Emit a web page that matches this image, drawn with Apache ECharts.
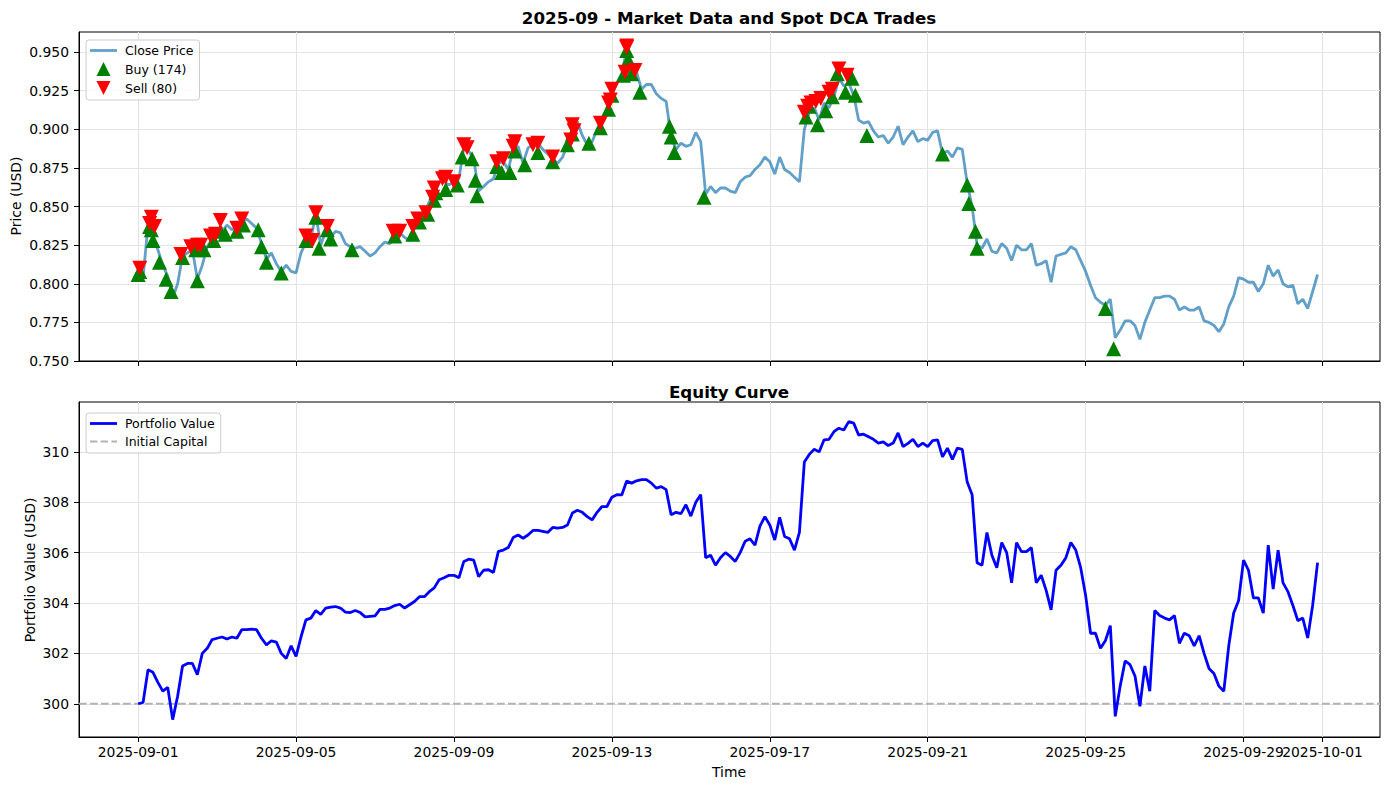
<!DOCTYPE html>
<html>
<head>
<meta charset="utf-8">
<script src="https://cdn.jsdelivr.net/npm/echarts@6/dist/echarts.min.js"></script>
<style>
  html, body { margin: 0; padding: 0; background: #fff; }
  #chart { width: 1389px; height: 790px; }
</style>
</head>
<body>
<div id="chart"></div>
<script>
// --- data (one value every 3 hours) ---
const START = '2025-09-01 00:00';
const END = '2025-09-30 23:00';
const STEP_HOURS = 3;

const closePrice = [
  0.806, 0.804, 0.838, 0.830, 0.822, 0.812, 0.805, 0.791,
  0.800, 0.818, 0.820, 0.822, 0.803, 0.812, 0.824, 0.829,
  0.831, 0.834, 0.838, 0.835, 0.837, 0.841, 0.842, 0.839,
  0.836, 0.826, 0.816, 0.820, 0.813, 0.808, 0.812, 0.808,
  0.807, 0.820, 0.827, 0.829, 0.845, 0.825, 0.834, 0.830,
  0.834, 0.833, 0.826, 0.824, 0.823, 0.824, 0.821, 0.818,
  0.820, 0.824, 0.827, 0.826, 0.830, 0.833, 0.830, 0.828,
  0.836, 0.842, 0.846, 0.853, 0.857, 0.866, 0.866, 0.864,
  0.866, 0.868, 0.888, 0.886, 0.881, 0.860, 0.863, 0.866,
  0.868, 0.878, 0.879, 0.874, 0.887, 0.889, 0.878, 0.888,
  0.890, 0.891, 0.887, 0.884, 0.881, 0.878, 0.882, 0.890,
  0.897, 0.905, 0.896, 0.890, 0.892, 0.900, 0.906, 0.914,
  0.922, 0.930, 0.936, 0.952, 0.938, 0.937, 0.926, 0.929,
  0.929, 0.923, 0.920, 0.918, 0.895, 0.887, 0.891, 0.889,
  0.890, 0.898, 0.892, 0.858, 0.863, 0.859, 0.862, 0.862,
  0.860, 0.859, 0.866, 0.869, 0.870, 0.874, 0.877, 0.882,
  0.879, 0.871, 0.882, 0.874, 0.872, 0.869, 0.866, 0.900,
  0.911, 0.914, 0.906, 0.917, 0.914, 0.921, 0.933, 0.928,
  0.930, 0.922, 0.906, 0.904, 0.905, 0.899, 0.895, 0.896,
  0.891, 0.895, 0.902, 0.890, 0.895, 0.899, 0.892, 0.894,
  0.893, 0.898, 0.899, 0.884, 0.886, 0.882, 0.888, 0.887,
  0.865, 0.850, 0.825, 0.823, 0.829, 0.821, 0.820, 0.826,
  0.823, 0.815, 0.825, 0.822, 0.822, 0.826, 0.812, 0.813,
  0.815, 0.801, 0.818, 0.819, 0.820, 0.824, 0.822, 0.815,
  0.808, 0.799, 0.791, 0.788, 0.786, 0.790, 0.765, 0.770,
  0.776, 0.776, 0.773, 0.764, 0.775, 0.783, 0.791, 0.791,
  0.792, 0.792, 0.790, 0.783, 0.785, 0.783, 0.783, 0.785,
  0.776, 0.775, 0.773, 0.769, 0.774, 0.785, 0.792, 0.804,
  0.803, 0.801, 0.801, 0.795, 0.800, 0.812, 0.805, 0.809,
  0.800, 0.798, 0.799, 0.787, 0.790, 0.784, 0.795, 0.806
];

const portfolioValue = [
  300.00, 300.05, 301.35, 301.25, 300.85, 300.50, 300.65, 299.37,
  300.30, 301.50, 301.60, 301.60, 301.15, 302.00, 302.20, 302.55,
  302.60, 302.65, 302.57, 302.65, 302.60, 302.94, 302.94, 302.96,
  302.94, 302.60, 302.34, 302.50, 302.45, 302.00, 301.80, 302.30,
  301.88, 302.65, 303.33, 303.40, 303.70, 303.55, 303.80, 303.84,
  303.86, 303.80, 303.64, 303.62, 303.70, 303.62, 303.45, 303.47,
  303.49, 303.75, 303.75, 303.80, 303.90, 303.95, 303.80, 303.93,
  304.06, 304.25, 304.25, 304.45, 304.60, 304.92, 305.00, 305.10,
  305.10, 305.00, 305.65, 305.74, 305.70, 305.05, 305.30, 305.32,
  305.21, 306.05, 306.10, 306.20, 306.60, 306.70, 306.57, 306.70,
  306.88, 306.88, 306.84, 306.80, 307.00, 306.97, 307.00, 307.10,
  307.57, 307.68, 307.60, 307.43, 307.30, 307.60, 307.83, 307.83,
  308.20, 308.30, 308.29, 308.84, 308.76, 308.85, 308.90, 308.90,
  308.76, 308.56, 308.62, 308.50, 307.50, 307.60, 307.55, 307.90,
  307.45, 308.00, 308.30, 305.80, 305.90, 305.50, 305.80, 306.00,
  305.85, 305.65, 306.00, 306.45, 306.55, 306.30, 307.05, 307.43,
  307.10, 306.50, 307.40, 306.64, 306.55, 306.10, 306.80, 309.60,
  309.90, 310.10, 310.00, 310.48, 310.50, 310.80, 310.94, 310.87,
  311.20, 311.14, 310.67, 310.70, 310.60, 310.50, 310.35, 310.40,
  310.25, 310.35, 310.75, 310.21, 310.34, 310.50, 310.21, 310.35,
  310.21, 310.45, 310.48, 309.80, 310.15, 309.70, 310.15, 310.10,
  308.80, 308.30, 305.60, 305.50, 306.80, 305.90, 305.40, 306.40,
  306.00, 304.80, 306.40, 306.04, 306.04, 306.20, 304.80, 305.10,
  304.50, 303.73, 305.30, 305.50, 305.80, 306.40, 306.10, 305.40,
  304.30, 302.80, 302.80, 302.20, 302.50, 303.10, 299.50, 300.70,
  301.70, 301.55, 301.10, 299.90, 301.50, 300.50, 303.70, 303.50,
  303.40, 303.33, 303.50, 302.40, 302.80, 302.70, 302.30, 302.70,
  302.00, 301.40, 301.20, 300.70, 300.50, 302.30, 303.60, 304.10,
  305.70, 305.30, 304.20, 304.20, 303.60, 306.30, 304.55, 306.10,
  304.80, 304.45, 303.90, 303.30, 303.40, 302.61, 303.90, 305.60
];

const INITIAL_CAPITAL = 300;

const buyTrades = [
  ['2025-09-01 00:00', 0.806], ['2025-09-01 01:00', 0.808], ['2025-09-01 07:00', 0.837],
  ['2025-09-01 08:00', 0.835], ['2025-09-01 09:00', 0.828], ['2025-09-01 13:00', 0.814],
  ['2025-09-01 17:00', 0.803], ['2025-09-01 20:00', 0.795], ['2025-09-02 03:00', 0.817],
  ['2025-09-02 12:00', 0.802], ['2025-09-02 11:00', 0.822], ['2025-09-02 16:00', 0.822],
  ['2025-09-02 22:00', 0.828], ['2025-09-03 02:00', 0.834], ['2025-09-03 05:00', 0.832],
  ['2025-09-03 12:00', 0.834], ['2025-09-03 16:00', 0.838], ['2025-09-04 01:00', 0.835],
  ['2025-09-04 03:00', 0.824], ['2025-09-04 06:00', 0.814], ['2025-09-04 15:00', 0.807],
  ['2025-09-05 06:00', 0.828], ['2025-09-05 12:00', 0.843], ['2025-09-05 14:00', 0.823],
  ['2025-09-05 19:00', 0.835], ['2025-09-05 21:00', 0.829], ['2025-09-06 10:00', 0.822],
  ['2025-09-07 12:00', 0.831], ['2025-09-07 23:00', 0.832], ['2025-09-08 03:00', 0.840],
  ['2025-09-08 08:00', 0.845], ['2025-09-08 12:00', 0.854], ['2025-09-08 19:00', 0.861],
  ['2025-09-08 13:00', 0.859], ['2025-09-09 02:00', 0.864], ['2025-09-09 05:00', 0.882],
  ['2025-09-09 11:00', 0.881], ['2025-09-09 13:00', 0.867], ['2025-09-09 14:00', 0.857],
  ['2025-09-10 02:00', 0.876], ['2025-09-10 05:00', 0.872], ['2025-09-10 10:00', 0.872],
  ['2025-09-10 13:00', 0.886], ['2025-09-10 19:00', 0.877], ['2025-09-11 03:00', 0.885],
  ['2025-09-11 12:00', 0.879], ['2025-09-11 21:00', 0.890], ['2025-09-12 00:00', 0.897],
  ['2025-09-12 10:00', 0.891], ['2025-09-12 17:00', 0.901], ['2025-09-12 22:00', 0.913],
  ['2025-09-13 00:00', 0.922], ['2025-09-13 07:00', 0.935], ['2025-09-13 09:00', 0.951],
  ['2025-09-13 10:00', 0.945], ['2025-09-13 12:00', 0.936], ['2025-09-13 17:00', 0.924],
  ['2025-09-14 11:00', 0.902], ['2025-09-14 12:00', 0.895], ['2025-09-14 14:00', 0.885],
  ['2025-09-15 08:00', 0.856], ['2025-09-17 22:00', 0.908], ['2025-09-18 05:00', 0.903],
  ['2025-09-18 00:00', 0.915], ['2025-09-18 10:00', 0.912], ['2025-09-18 14:00', 0.921],
  ['2025-09-18 17:00', 0.936], ['2025-09-18 22:00', 0.924], ['2025-09-19 02:00', 0.933],
  ['2025-09-19 04:00', 0.922], ['2025-09-19 11:00', 0.896], ['2025-09-21 09:00', 0.884],
  ['2025-09-22 00:00', 0.864], ['2025-09-22 01:00', 0.852], ['2025-09-22 05:00', 0.834],
  ['2025-09-22 06:00', 0.823], ['2025-09-25 12:00', 0.784], ['2025-09-25 17:00', 0.758]
];

const sellTrades = [
  ['2025-09-01 01:00', 0.810], ['2025-09-01 08:00', 0.843], ['2025-09-01 07:00', 0.839],
  ['2025-09-01 10:00', 0.837], ['2025-09-02 02:00', 0.819], ['2025-09-02 08:00', 0.824],
  ['2025-09-02 12:00', 0.825], ['2025-09-02 14:00', 0.825], ['2025-09-02 20:00', 0.831],
  ['2025-09-02 23:00', 0.832], ['2025-09-03 02:00', 0.841], ['2025-09-03 12:00', 0.836],
  ['2025-09-03 15:00', 0.842], ['2025-09-05 06:00', 0.831], ['2025-09-05 10:00', 0.828],
  ['2025-09-05 12:00', 0.846], ['2025-09-05 19:00', 0.837], ['2025-09-07 11:00', 0.834],
  ['2025-09-07 15:00', 0.834], ['2025-09-07 23:00', 0.837], ['2025-09-08 02:00', 0.842],
  ['2025-09-08 07:00', 0.846], ['2025-09-08 11:00', 0.856], ['2025-09-08 12:00', 0.862],
  ['2025-09-08 17:00', 0.868], ['2025-09-08 19:00', 0.869], ['2025-09-09 00:00', 0.866],
  ['2025-09-09 06:00', 0.890], ['2025-09-09 08:00', 0.888], ['2025-09-10 02:00', 0.879],
  ['2025-09-10 06:00', 0.881], ['2025-09-10 13:00', 0.892], ['2025-09-10 12:00', 0.889],
  ['2025-09-11 00:00', 0.890], ['2025-09-11 03:00', 0.891], ['2025-09-11 12:00', 0.882],
  ['2025-09-11 23:00', 0.893], ['2025-09-12 00:00', 0.903], ['2025-09-12 01:00', 0.899],
  ['2025-09-12 17:00', 0.904], ['2025-09-12 22:00', 0.917], ['2025-09-12 23:00', 0.919],
  ['2025-09-13 00:00', 0.926], ['2025-09-13 08:00', 0.937], ['2025-09-13 09:00', 0.954],
  ['2025-09-13 09:00', 0.953], ['2025-09-13 14:00', 0.938], ['2025-09-17 21:00', 0.911],
  ['2025-09-17 23:00', 0.915], ['2025-09-18 01:00', 0.917], ['2025-09-18 04:00', 0.918],
  ['2025-09-18 07:00', 0.920], ['2025-09-18 12:00', 0.924], ['2025-09-18 14:00', 0.926],
  ['2025-09-18 18:00', 0.939], ['2025-09-18 23:00', 0.935]
];

const xTickLabels = ['2025-09-01', '2025-09-05', '2025-09-09', '2025-09-13', '2025-09-17',
  '2025-09-21', '2025-09-25', '2025-09-29', '2025-10-01'];
const priceTicks = [0.75, 0.775, 0.8, 0.825, 0.85, 0.875, 0.9, 0.925, 0.95];
const equityTicks = [300, 302, 304, 306, 308, 310];

// --- helpers ---
const FONT = 'DejaVu Sans';
const HOUR = 3600 * 1000;

function toMs(s) {
  const [d, hm = '00:00'] = s.split(' ');
  const [Y, M, D] = d.split('-').map(Number);
  const [h, m] = hm.split(':').map(Number);
  return Date.UTC(Y, M - 1, D, h, m);
}
function fmtDate(ms) {
  const d = new Date(ms);
  const p = n => String(n).padStart(2, '0');
  return d.getUTCFullYear() + '-' + p(d.getUTCMonth() + 1) + '-' + p(d.getUTCDate());
}

const t0 = toMs(START);
const tEnd = toMs(END);
const pad = (tEnd - t0) * 0.05;
const xMin = t0 - pad;
const xMax = tEnd + pad;
const xTickValues = xTickLabels.map(toMs);

const priceData = closePrice.map((v, i) => [t0 + i * STEP_HOURS * HOUR, v]);
const equityData = portfolioValue.map((v, i) => [t0 + i * STEP_HOURS * HOUR, v]);
const buyData = buyTrades.map(d => [toMs(d[0]), d[1]]);
const sellData = sellTrades.map(d => [toMs(d[0]), d[1]]);

// marker / legend shapes
const UP_TRI = 'path://M10,0 L20,20 L0,20 Z';
const DOWN_TRI = 'path://M0,0 L20,0 L10,20 Z';
const SOLID_ICON = 'path://M0,0 L27,0 L27,2.8 L0,2.8 Z';
const DASH_ICON = 'path://M0,0 h7.4 v2.1 h-7.4 Z M10.7,0 h7.4 v2.1 h-7.4 Z M21.4,0 h5.6 v2.1 h-5.6 Z';

const labelStyle = { color: '#000', fontFamily: FONT, fontSize: 13.9 };
const tickStyle = { show: true, length: 5, lineStyle: { color: '#000', width: 1 } };
const gridLine = { show: true, lineStyle: { color: '#e3e3e3', width: 1 } };

function xAxis(gridIndex, labelValues) {
  return {
    type: 'value', gridIndex, min: xMin, max: xMax,
    axisLine: { show: true, onZero: false, lineStyle: { color: '#000', width: 1 } },
    axisTick: Object.assign({ customValues: xTickValues }, tickStyle),
    axisLabel: Object.assign({
      show: !!labelValues, customValues: labelValues || xTickValues, formatter: fmtDate,
      margin: 8, hideOverlap: false
    }, labelStyle),
    splitLine: gridLine
  };
}
// the last date label touches its neighbour, so it sits on its own label-only axis
function xLabelAxis(gridIndex, labelValues) {
  return {
    type: 'value', gridIndex, min: xMin, max: xMax, position: 'bottom',
    axisLine: { show: false }, axisTick: { show: false }, splitLine: { show: false },
    axisLabel: Object.assign({ customValues: labelValues, formatter: fmtDate, margin: 8, hideOverlap: false }, labelStyle)
  };
}
function yAxis(gridIndex, min, max, ticks, digits) {
  return {
    type: 'value', gridIndex, min, max, scale: true,
    axisLine: { show: true, onZero: false, lineStyle: { color: '#000', width: 1 } },
    axisTick: Object.assign({ customValues: ticks }, tickStyle),
    axisLabel: Object.assign({ customValues: ticks, formatter: v => v.toFixed(digits), margin: 10 }, labelStyle),
    splitLine: gridLine
  };
}

function legendBox(top, items) {
  return {
    data: items, left: 86, top, orient: 'vertical',
    itemWidth: 27, itemHeight: 14, itemGap: 5,
    symbolKeepAspect: true,
    padding: [4, 6, 5, 4],
    backgroundColor: 'rgba(255,255,255,0.8)',
    borderColor: '#cccccc', borderWidth: 1, borderRadius: 3,
    textStyle: { fontFamily: FONT, fontSize: 12.5, color: '#000', padding: [0, 0, 0, 3] }
  };
}

const chart = echarts.init(document.getElementById('chart'), null, { renderer: 'svg' });
chart.setOption({
  animation: false,
  backgroundColor: '#fff',
  grid: [
    { left: 79, top: 32, width: 1301, height: 329, show: true, borderColor: '#000', borderWidth: 1, backgroundColor: 'transparent' },
    { left: 79, top: 402, width: 1301, height: 335, show: true, borderColor: '#000', borderWidth: 1, backgroundColor: 'transparent' }
  ],
  xAxis: [
    xAxis(0, null),
    xAxis(1, xTickValues.slice(0, -1)),
    xLabelAxis(1, xTickValues.slice(-1))
  ],
  yAxis: [
    yAxis(0, 0.75, 0.963, priceTicks, 3),
    yAxis(1, 298.68, 311.98, equityTicks, 0)
  ],
  legend: [
    legendBox(40, [
      { name: 'Close Price', icon: SOLID_ICON },
      { name: 'Buy (174)', icon: UP_TRI },
      { name: 'Sell (80)', icon: DOWN_TRI }
    ]),
    legendBox(413, [
      { name: 'Portfolio Value', icon: SOLID_ICON },
      { name: 'Initial Capital', icon: DASH_ICON }
    ])
  ],
  graphic: [
    { type: 'text', x: 729, y: 18, style: { text: '2025-09 - Market Data and Spot DCA Trades', align: 'center', verticalAlign: 'middle', font: 'bold 16.7px "DejaVu Sans"', fill: '#000' } },
    { type: 'text', x: 729, y: 392, style: { text: 'Equity Curve', align: 'center', verticalAlign: 'middle', font: 'bold 16.7px "DejaVu Sans"', fill: '#000' } },
    { type: 'text', x: 729, y: 772, style: { text: 'Time', align: 'center', verticalAlign: 'middle', font: '13.9px "DejaVu Sans"', fill: '#000' } },
    { type: 'text', x: 16, y: 196, rotation: Math.PI / 2, style: { text: 'Price (USD)', align: 'center', verticalAlign: 'middle', font: '13.9px "DejaVu Sans"', fill: '#000' } },
    { type: 'text', x: 30, y: 570, rotation: Math.PI / 2, style: { text: 'Portfolio Value (USD)', align: 'center', verticalAlign: 'middle', font: '13.9px "DejaVu Sans"', fill: '#000' } }
  ],
  series: [
    {
      name: 'Close Price', type: 'line', xAxisIndex: 0, yAxisIndex: 0,
      data: priceData, symbol: 'none', z: 2,
      itemStyle: { color: '#1f77b4', opacity: 0.7 },
      lineStyle: { color: '#1f77b4', width: 2.8, opacity: 0.7 }
    },
    {
      name: 'Buy (174)', type: 'scatter', xAxisIndex: 0, yAxisIndex: 0,
      data: buyData, symbol: UP_TRI, symbolSize: 15, z: 3,
      itemStyle: { color: '#008000', opacity: 1 }
    },
    {
      name: 'Sell (80)', type: 'scatter', xAxisIndex: 0, yAxisIndex: 0,
      data: sellData, symbol: DOWN_TRI, symbolSize: 15, z: 4,
      itemStyle: { color: '#ff0000', opacity: 1 }
    },
    {
      name: 'Portfolio Value', type: 'line', xAxisIndex: 1, yAxisIndex: 1,
      data: equityData, symbol: 'none', z: 3,
      itemStyle: { color: '#0000ff' },
      lineStyle: { color: '#0000ff', width: 2.8 }
    },
    {
      name: 'Initial Capital', type: 'line', xAxisIndex: 1, yAxisIndex: 1,
      data: [[xMin, INITIAL_CAPITAL], [xMax, INITIAL_CAPITAL]], symbol: 'none', z: 2,
      itemStyle: { color: '#b3b3b3' },
      lineStyle: { color: '#b3b3b3', width: 2.1, type: [7.7, 3.3] }
    }
  ]
});
</script>
</body>
</html>
